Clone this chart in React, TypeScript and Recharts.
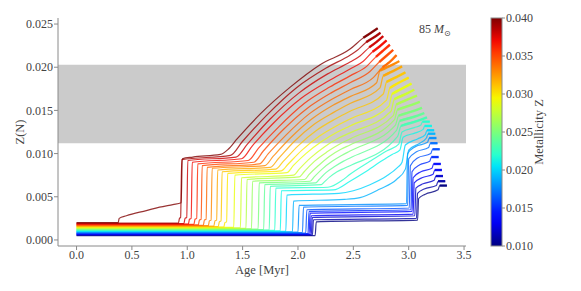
import React from "react";
import { LineChart, Line, XAxis, YAxis, ReferenceArea } from "recharts";

// ---------- data ----------
const metallicities = [
  0.010, 0.011, 0.012, 0.013, 0.014, 0.015, 0.016, 0.017, 0.018, 0.019, 0.020,
  0.021, 0.022, 0.023, 0.024, 0.025, 0.026, 0.027, 0.028, 0.029, 0.030,
  0.031, 0.032, 0.033, 0.034, 0.035, 0.036, 0.037, 0.038, 0.039, 0.040,
];
const ageTicks = [0, 0.5, 1.0, 1.5, 2.0, 2.5, 3.0, 3.5];
const zTicks = [0, 0.005, 0.01, 0.015, 0.02, 0.025];
const colorbarTicks = [0.010, 0.015, 0.020, 0.025, 0.030, 0.035, 0.040];
const bandLow = 0.0112;
const bandHigh = 0.0203;

// tracks: [age (Myr), Z(N)]
const trackZ010 = [[0,.0005],[2.155,.0005],[2.165,.0021],[3.08,.0023],[3.09,.0048],[3.15,.0053],[3.265,.0058],[3.28,.0063],[3.345,.0063]];
const trackZ011 = [[0,.00055],[2.13,.00055],[2.14,.00234],[3.07,.0025],[3.08,.0054],[3.14,.0059],[3.25,.0063],[3.265,.0068],[3.33,.0068]];
const trackZ012 = [[0,.0006],[2.12,.0006],[2.13,.0026],[3.055,.0028],[3.065,.0060],[3.13,.0065],[3.23,.0069],[3.245,.0074],[3.31,.0074]];
const trackZ013 = [[0,.00065],[2.11,.00065],[2.12,.0028],[3.04,.0030],[3.05,.0066],[3.12,.0072],[3.22,.0076],[3.235,.0081],[3.30,.0081]];
const trackZ014 = [[0,.0007],[2.10,.0007],[2.11,.0031],[3.03,.0033],[3.04,.0072],[3.11,.0079],[3.21,.0083],[3.225,.0088],[3.29,.0088]];
const trackZ015 = [[0,.00075],[2.09,.00075],[2.10,.0033],[3.02,.0035],[3.03,.0079],[3.10,.0087],[3.19,.0091],[3.205,.0096],[3.27,.0096]];
const trackZ016 = [[0,.0008],[2.07,.0008],[2.08,.0035],[3.005,.0037],[3.015,.0086],[3.08,.0095],[3.20,.0100],[3.215,.0105],[3.28,.0105]];
const trackZ017 = [[0,.00085],[2.04,.00085],[2.05,.0038],[2.99,.0040],[3.00,.0094],[3.07,.0102],[3.18,.0107],[3.195,.0112],[3.26,.0112]];
const trackZ018 = [[0,.0009],[2.00,.0009],[2.01,.0040],[2.98,.0042],[2.99,.0100],[3.06,.0108],[3.17,.0113],[3.185,.0118],[3.25,.0118]];
const trackZ019 = [[0,.00095],[1.95,.00095],[1.96,.0045],[2.42,.0047],[2.56,.0049],[2.74,.0059],[2.89,.0070],[2.97,.0082],[3.00,.0104],[3.10,.0112],[3.16,.0118],[3.175,.0123],[3.24,.0123]];
const trackZ020 = [[0,.0010],[1.89,.0010],[1.90,.0052],[2.37,.0054],[2.50,.0057],[2.65,.0064],[2.80,.0074],[2.90,.0084],[2.94,.0090],[2.97,.0110],[3.08,.0117],[3.15,.0122],[3.165,.0127],[3.23,.0127]];
const trackZ021 = [[0,.00105],[1.84,.00105],[1.85,.0057],[2.32,.0058],[2.47,.0068],[2.60,.0078],[2.75,.0091],[2.85,.0099],[2.92,.0104],[2.95,.0119],[3.06,.0124],[3.13,.0128],[3.145,.0132],[3.21,.0132]];
const trackZ022 = [[0,.0011],[1.79,.0011],[1.80,.0060],[2.27,.0061],[2.40,.0069],[2.47,.0076],[2.65,.0091],[2.80,.0103],[2.91,.0111],[2.94,.0125],[3.05,.0130],[3.11,.0133],[3.125,.0137],[3.19,.0137]];
const trackZ023 = [[0,.00115],[1.74,.00115],[1.75,.0062],[2.21,.0064],[2.236,.0067],[2.288,.0073],[2.353,.0079],[2.418,.0083],[2.47,.0086],[2.90,.0120],[2.93,.0132],[3.105,.0139],[3.165,.0142]];
const trackZ024 = [[0,.0012],[1.69,.0012],[1.70,.0064],[2.16,.0066],[2.191,.0070],[2.253,.0078],[2.331,.0085],[2.408,.0091],[2.47,.0095],[2.89,.0127],[2.92,.0138],[3.08,.0144],[3.14,.0147]];
const trackZ025 = [[0,.00125],[1.64,.00125],[1.65,.0066],[2.11,.0068],[2.146,.0073],[2.218,.0082],[2.308,.0091],[2.398,.0098],[2.47,.0103],[2.88,.0133],[2.91,.0144],[3.06,.0150],[3.12,.0153]];
const trackZ026 = [[0,.0013],[1.58,.0013],[1.59,.0068],[2.06,.0070],[2.101,.0076],[2.183,.0086],[2.286,.0097],[2.388,.0105],[2.47,.0110],[2.87,.0139],[2.90,.0151],[3.04,.0157],[3.10,.0160]];
const trackZ027 = [[0,.00135],[1.53,.00135],[1.54,.0070],[2.01,.0073],[2.056,.0079],[2.148,.0091],[2.263,.0102],[2.378,.0111],[2.47,.0117],[2.86,.0144],[2.89,.0157],[3.015,.0164],[3.075,.0167]];
const trackZ028 = [[0,.0014],[1.48,.0014],[1.49,.0072],[1.96,.0075],[2.011,.0082],[2.113,.0095],[2.241,.0108],[2.368,.0118],[2.47,.0124],[2.84,.0149],[2.87,.0163],[2.99,.0170],[3.05,.0174]];
const trackZ029 = [[0,.00145],[1.42,.00145],[1.43,.0075],[1.90,.0078],[1.957,.0086],[2.071,.0100],[2.214,.0114],[2.356,.0125],[2.47,.0132],[2.82,.0155],[2.85,.0169],[2.965,.0177],[3.025,.0181]];
const trackZ030 = [[0,.0015],[1.33,.0015],[1.34,.0020],[1.355,.0021],[1.365,.0077],[1.85,.0080],[1.912,.0088],[2.036,.0104],[2.191,.0120],[2.346,.0132],[2.47,.0140],[2.80,.0162],[2.83,.0176],[2.94,.0184],[3.00,.0188]];
const trackZ031 = [[0,.00155],[1.28,.00155],[1.29,.0021],[1.305,.0022],[1.315,.0079],[1.80,.0082],[1.867,.0091],[2.001,.0109],[2.169,.0127],[2.336,.0140],[2.47,.0149],[2.77,.0169],[2.80,.0183],[2.91,.0190],[2.97,.0194]];
const trackZ032 = [[0,.0016],[1.24,.0016],[1.25,.0022],[1.265,.0023],[1.275,.0081],[1.75,.0084],[1.822,.0094],[1.966,.0114],[2.146,.0134],[2.326,.0148],[2.47,.0158],[2.74,.0176],[2.77,.0190],[2.88,.0197],[2.94,.0201]];
const trackZ033 = [[0,.00165],[1.19,.00165],[1.20,.0022],[1.215,.0023],[1.225,.0083],[1.70,.0086],[1.777,.0097],[1.931,.0118],[2.124,.0140],[2.316,.0156],[2.47,.0166],[2.71,.0182],[2.74,.0196],[2.855,.0203],[2.915,.0207]];
const trackZ034 = [[0,.0017],[1.145,.0017],[1.155,.0023],[1.17,.0024],[1.18,.0084],[1.65,.0088],[1.732,.0100],[1.896,.0122],[2.101,.0146],[2.306,.0163],[2.47,.0174],[2.68,.0188],[2.764,.0200],[2.827,.0206],[2.89,.0214]];
const trackZ035 = [[0,.00175],[1.10,.00175],[1.11,.0023],[1.125,.0024],[1.135,.0086],[1.60,.0090],[1.687,.0103],[1.861,.0127],[2.079,.0152],[2.296,.0170],[2.47,.0182],[2.65,.0195],[2.734,.0206],[2.797,.0213],[2.86,.0220]];
const trackZ036 = [[0,.0018],[1.06,.0018],[1.07,.0024],[1.085,.0025],[1.095,.0088],[1.55,.0092],[1.642,.0106],[1.826,.0131],[2.056,.0158],[2.286,.0177],[2.47,.0190],[2.62,.0201],[2.704,.0212],[2.767,.0219],[2.83,.0226]];
const trackZ037 = [[0,.00185],[1.01,.00185],[1.02,.0024],[1.035,.0025],[1.045,.0090],[1.49,.0094],[1.588,.0109],[1.784,.0136],[2.029,.0164],[2.274,.0184],[2.47,.0198],[2.59,.0207],[2.674,.0218],[2.737,.0224],[2.80,.0231]];
const trackZ038 = [[0,.0019],[0.97,.0019],[0.98,.0025],[0.995,.0026],[1.005,.0092],[1.44,.0096],[1.543,.0111],[1.749,.0140],[2.007,.0170],[2.264,.0192],[2.47,.0206],[2.56,.0213],[2.644,.0223],[2.707,.0229],[2.77,.0236]];
const trackZ039 = [[0,.00195],[0.92,.00195],[0.93,.0025],[0.94,.0026],[0.95,.0093],[1.39,.0098],[1.498,.0114],[1.714,.0144],[1.984,.0176],[2.254,.0199],[2.47,.0214],[2.53,.0219],[2.616,.0229],[2.68,.0234],[2.745,.0240]];
const trackZ040 = [[0,.0020],[0.376,.0020],[0.385,.0025],[0.45,.0028],[0.63,.0034],[0.75,.0038],[0.87,.0041],[0.945,.0043],[0.955,.0094],[1.05,.0096],[1.30,.0099],[1.37,.0105],[1.45,.0117],[1.66,.0146],[1.93,.0177],[2.20,.0203],[2.47,.0221],[2.59,.0234],[2.65,.0239],[2.72,.0245]];

const tracks = [
  trackZ010, trackZ011, trackZ012, trackZ013, trackZ014, trackZ015, trackZ016, trackZ017,
  trackZ018, trackZ019, trackZ020, trackZ021, trackZ022, trackZ023, trackZ024, trackZ025,
  trackZ026, trackZ027, trackZ028, trackZ029, trackZ030, trackZ031, trackZ032, trackZ033,
  trackZ034, trackZ035, trackZ036, trackZ037, trackZ038, trackZ039, trackZ040,
];

// ---------- styling ----------
const jetR = [[0, 0], [0.35, 0], [0.66, 1], [0.89, 1], [1, 0.5]];
const jetG = [[0, 0], [0.125, 0], [0.375, 1], [0.64, 1], [0.91, 0], [1, 0]];
const jetB = [[0, 0.5], [0.11, 1], [0.34, 1], [0.65, 0], [1, 0]];
function seg(p: number[][], u: number) {
  for (let i = 1; i < p.length; i++) {
    if (u <= p[i][0]) {
      const [x0, y0] = p[i - 1];
      const [x1, y1] = p[i];
      return y0 + ((y1 - y0) * (u - x0)) / (x1 - x0);
    }
  }
  return p[p.length - 1][1];
}
function jet(u: number) {
  const c = (v: number) => Math.round(255 * Math.max(0, Math.min(1, v)));
  return `rgb(${c(seg(jetR, u))},${c(seg(jetG, u))},${c(seg(jetB, u))})`;
}

const ZMIN = 0.01;
const ZMAX = 0.04;
const W = 565;
const H = 275;
const MARGIN = { top: 10, right: 107, bottom: 0, left: 0 };
const YW = 50;
const XH = 37;
const plotL = MARGIN.left + YW;
const plotT = MARGIN.top;
const plotR = W - MARGIN.right;
const plotB = H - MARGIN.bottom - XH;
const FONT = "Liberation Serif, DejaVu Serif, serif";
const TXT = "#444";
const AX = "#8a8a8a";

export default function App() {
  const cbX = 483;
  const cbW = 11;
  const cbY = (z: number) => plotB - ((z - ZMIN) / (ZMAX - ZMIN)) * (plotB - plotT);
  const stops = Array.from({ length: 21 }, (_, i) => i / 20);
  const tstyle = { fontFamily: FONT };

  return (
    <div style={{ position: "relative", width: W, height: H }}>
      <LineChart width={W} height={H} margin={MARGIN}>
        <XAxis
          type="number"
          dataKey="x"
          domain={[-0.1675, 3.5175]}
          allowDataOverflow
          ticks={ageTicks}
          tickFormatter={(v: number) => v.toFixed(1)}
          height={XH}
          tickSize={4}
          tickMargin={0}
          stroke={AX}
          tick={{ fill: TXT, fontSize: 12, fontFamily: FONT }}
        />
        <XAxis
          xAxisId="top"
          orientation="top"
          type="number"
          dataKey="x"
          domain={[-0.1675, 3.5175]}
          allowDataOverflow
          height={0}
          tick={false}
          tickLine={false}
          stroke={AX}
        />
        <YAxis
          type="number"
          dataKey="y"
          domain={[-0.0007, 0.0257]}
          allowDataOverflow
          ticks={zTicks}
          tickFormatter={(v: number) => v.toFixed(3)}
          width={YW}
          tickSize={4}
          tickMargin={1}
          stroke={AX}
          tick={{ fill: TXT, fontSize: 12, fontFamily: FONT }}
        />
        <YAxis
          yAxisId="right"
          orientation="right"
          type="number"
          domain={[-0.0007, 0.0257]}
          allowDataOverflow
          width={0}
          tick={false}
          tickLine={false}
          stroke={AX}
        />
        <ReferenceArea
          x1={-0.1675}
          x2={3.5175}
          y1={bandLow}
          y2={bandHigh}
          fill="#cbcbcb"
          fillOpacity={1}
          stroke="none"
        />
        {tracks.map((t, i) => {
          const col = jet((metallicities[i] - ZMIN) / (ZMAX - ZMIN));
          const data = t.map(([x, y]) => ({ x, y }));
          return (
            <Line
              key={"l" + i}
              data={data}
              dataKey="y"
              type="monotone"
              stroke={col}
              strokeWidth={1.2}
              strokeOpacity={0.8}
              dot={false}
              activeDot={false}
              isAnimationActive={false}
            />
          );
        })}
        {tracks.map((t, i) => {
          const col = jet((metallicities[i] - ZMIN) / (ZMAX - ZMIN));
          const data = t.map(([x, y]) => ({ x, y })).slice(i < 13 ? -2 : -3);
          return (
            <Line
              key={"e" + i}
              data={data}
              dataKey="y"
              type="monotone"
              stroke={col}
              strokeWidth={2.4}
              strokeOpacity={0.9}
              dot={false}
              activeDot={false}
              isAnimationActive={false}
            />
          );
        })}
      </LineChart>
      <svg
        width={W}
        height={H}
        style={{ position: "absolute", left: 0, top: 0, pointerEvents: "none" }}
      >
        <defs>
          <linearGradient id="cbgrad" x1="0" y1="1" x2="0" y2="0">
            {stops.map((s) => (
              <stop key={s} offset={s} stopColor={jet(s)} />
            ))}
          </linearGradient>
        </defs>
        <rect x={cbX} y={plotT} width={cbW} height={plotB - plotT} fill="url(#cbgrad)" stroke={AX} strokeWidth={1} />
        {colorbarTicks.map((z) => (
          <g key={z}>
            <line x1={cbX + cbW} x2={cbX + cbW + 3} y1={cbY(z)} y2={cbY(z)} stroke={AX} />
            <text x={cbX + cbW + 4} y={cbY(z)} dominantBaseline="central" fontSize={12} fill={TXT} style={tstyle}>
              {z.toFixed(3)}
            </text>
          </g>
        ))}
        <text
          transform={`translate(531,${(plotT + plotB) / 2}) rotate(-90)`}
          textAnchor="middle"
          dominantBaseline="central"
          fontSize={12.5}
          fill={TXT}
          style={tstyle}
        >
          Metallicity Z
        </text>
        <text
          transform={`translate(12,${(plotT + plotB) / 2}) rotate(-90)`}
          textAnchor="middle"
          dominantBaseline="central"
          fontSize={12.5}
          fill={TXT}
          style={tstyle}
        >
          Z(N)
        </text>
        <text x={(plotL + plotR) / 2} y={262} textAnchor="middle" dominantBaseline="central" fontSize={12.5} fill={TXT} style={tstyle}>
          Age [Myr]
        </text>
        <text x={411} y={24.5} fontSize={12} fill={TXT} style={tstyle}>
          85 <tspan fontStyle="italic">M</tspan>
          <tspan dy={3} fontSize={8} style={{ fontFamily: "DejaVu Sans, sans-serif" }}>⊙</tspan>
        </text>
      </svg>
    </div>
  );
}
